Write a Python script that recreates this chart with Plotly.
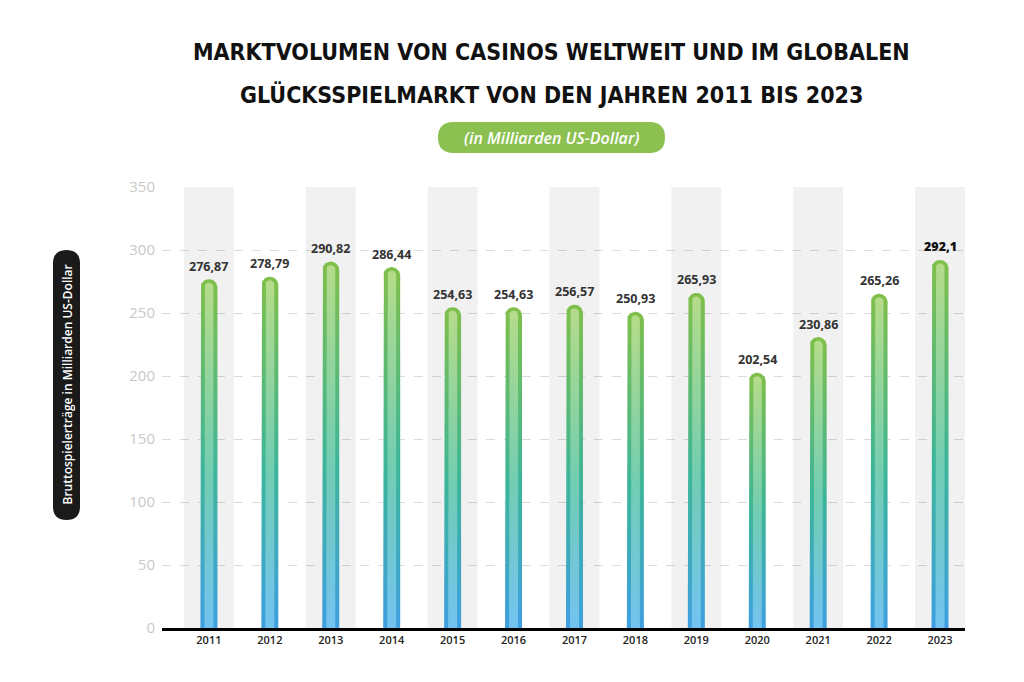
import math
import plotly.graph_objects as go

# ---------------- data ----------------
years = [2011, 2012, 2013, 2014, 2015, 2016, 2017, 2018, 2019, 2020, 2021, 2022, 2023]
values = [276.87, 278.79, 290.82, 286.44, 254.63, 254.63, 256.57, 250.93, 265.93, 202.54, 230.86, 265.26, 292.1]
value_labels = ["276,87", "278,79", "290,82", "286,44", "254,63", "254,63", "256,57",
                "250,93", "265,93", "202,54", "230,86", "265,26", "292,1"]
y_ticks = [0, 50, 100, 150, 200, 250, 300, 350]
title_lines = ["MARKTVOLUMEN VON CASINOS WELTWEIT UND IM GLOBALEN",
               "GLÜCKSSPIELMARKT VON DEN JAHREN 2011 BIS 2023"]
subtitle = "(in Milliarden US-Dollar)"
y_title = "Bruttospielerträge in Milliarden US-Dollar"
band_years = years[::2]

# ---------------- layout geometry ----------------
OFF = 8  # page body margin
W, H = 1024, 682
PW, PH = 803, 441
ML, MT = 162 - OFF, 187 - OFF
MR, MB = W - ML - PW, H - MT - PH
XMIN, XMAX = 2010.23, 2023.41
YMAX = 350
ppx = PW / (XMAX - XMIN)
ppy = PH / YMAX


def px_to_paper_x(px):
    return (px - OFF - ML) / PW


def py_to_paper_y(py):
    return (MT + PH - (py - OFF)) / PH


def bar_poly(x, v, half_px, inset_px=0):
    hw = half_px / ppx
    ry = half_px / ppy
    top = v - inset_px / ppy
    xs, ys = [x - hw, x - hw], [0, top - ry]
    n = 24
    for k in range(n + 1):
        th = math.pi - math.pi * k / n
        xs.append(x + hw * math.cos(th))
        ys.append(top - ry + ry * math.sin(th))
    xs += [x + hw, x - hw]
    ys += [0, 0]
    return xs, ys


def pill_path(w, h):
    r = min(w, h) / 2
    x0, x1, y0, y1 = -w / 2, w / 2, -h / 2, h / 2
    return (f"M{x0 + r},{y0} L{x1 - r},{y0} Q{x1},{y0} {x1},{y0 + r} "
            f"L{x1},{y1 - r} Q{x1},{y1} {x1 - r},{y1} L{x0 + r},{y1} "
            f"Q{x0},{y1} {x0},{y1 - r} L{x0},{y0 + r} Q{x0},{y0} {x0 + r},{y0} Z")


fig = go.Figure()

# background bands
fig.add_trace(go.Bar(x=band_years, y=[YMAX] * len(band_years), width=0.82,
                     marker=dict(color="rgba(0,0,0,0.055)", line=dict(width=0)),
                     hoverinfo="skip", showlegend=False))

outer_scale = [[0, "#3f9fe0"], [0.45, "#3db59a"], [1, "#80bf4a"]]
inner_scale = [[0, "#72c3f0"], [0.45, "#72cdb2"], [1, "#b6dc88"]]

for yr, v in zip(years, values):
    xs, ys = bar_poly(yr, v, 8.5)
    fig.add_trace(go.Scatter(x=xs, y=ys, mode="lines", fill="toself",
                             line=dict(width=0, color="rgba(0,0,0,0)"),
                             fillgradient=dict(type="vertical", colorscale=outer_scale, start=0, stop=v),
                             hoverinfo="skip", showlegend=False))
    xs, ys = bar_poly(yr, v, 4.5, inset_px=3.5)
    fig.add_trace(go.Scatter(x=xs, y=ys, mode="lines", fill="toself",
                             line=dict(width=0, color="rgba(0,0,0,0)"),
                             fillgradient=dict(type="vertical", colorscale=inner_scale, start=0, stop=v),
                             hoverinfo="skip", showlegend=False))

annotations = []
for i, (yr, v, lab) in enumerate(zip(years, values, value_labels)):
    last = i == len(years) - 1
    annotations.append(dict(x=yr, y=v, xref="x", yref="y", text=lab, showarrow=False,
                            yshift=13, yanchor="middle",
                            font=dict(family="Open Sans", size=12.5,
                                      color="#111111" if last else "#333333",
                                      weight=800 if last else 700)))

# title
for txt, py in zip(title_lines, [52, 95]):
    annotations.append(dict(x=px_to_paper_x(551.5), y=py_to_paper_y(py), xref="paper", yref="paper",
                            text=txt, showarrow=False, xanchor="center", yanchor="middle",
                            font=dict(family="DejaVu Sans Condensed", size=23, color="#111111", weight=700)))

# subtitle pill
annotations.append(dict(x=px_to_paper_x(551.5), y=py_to_paper_y(137.5), xref="paper", yref="paper",
                        text=f"<i>{subtitle}</i>", showarrow=False, xanchor="center", yanchor="middle",
                        font=dict(family="Open Sans", size=16, color="white", weight=600)))
# y title pill
annotations.append(dict(x=px_to_paper_x(66.5), y=py_to_paper_y(385), xref="paper", yref="paper",
                        text=y_title, showarrow=False, textangle=-90, xanchor="center", yanchor="middle",
                        font=dict(family="Open Sans", size=12, color="white", weight=600)))

shapes = [
    dict(type="path", xref="paper", yref="paper", xsizemode="pixel", ysizemode="pixel",
         xanchor=px_to_paper_x(551.5), yanchor=py_to_paper_y(137.5),
         path=pill_path(227, 31), fillcolor="#8cc152", line=dict(width=0), layer="above"),
    dict(type="path", xref="paper", yref="paper", xsizemode="pixel", ysizemode="pixel",
         xanchor=px_to_paper_x(66.5), yanchor=py_to_paper_y(385),
         path=pill_path(27, 270), fillcolor="#1a1a1a", line=dict(width=0), layer="above"),
]

fig.update_layout(
    width=W, height=H,
    margin=dict(l=ML, r=MR, t=MT, b=MB),
    paper_bgcolor="white", plot_bgcolor="white",
    barmode="overlay",
    showlegend=False,
    annotations=annotations,
    shapes=shapes,
    xaxis=dict(range=[XMIN, XMAX], tickvals=years, ticktext=[str(y) for y in years],
               showgrid=False, zeroline=False, showline=True, linecolor="#000000", linewidth=2.5,
               ticks="", tickfont=dict(family="Open Sans", size=11, color="#222222", weight=600),
               fixedrange=True),
    yaxis=dict(range=[0, YMAX], tickvals=y_ticks, showgrid=True, gridcolor="#dcdcdc",
               griddash="dash", gridwidth=1, zeroline=False, showline=False, ticks="",
               tickfont=dict(family="Open Sans", size=15, color="#c8c8c8"),
               ticklabelstandoff=6, fixedrange=True),
)

fig.write_html("out.html")
